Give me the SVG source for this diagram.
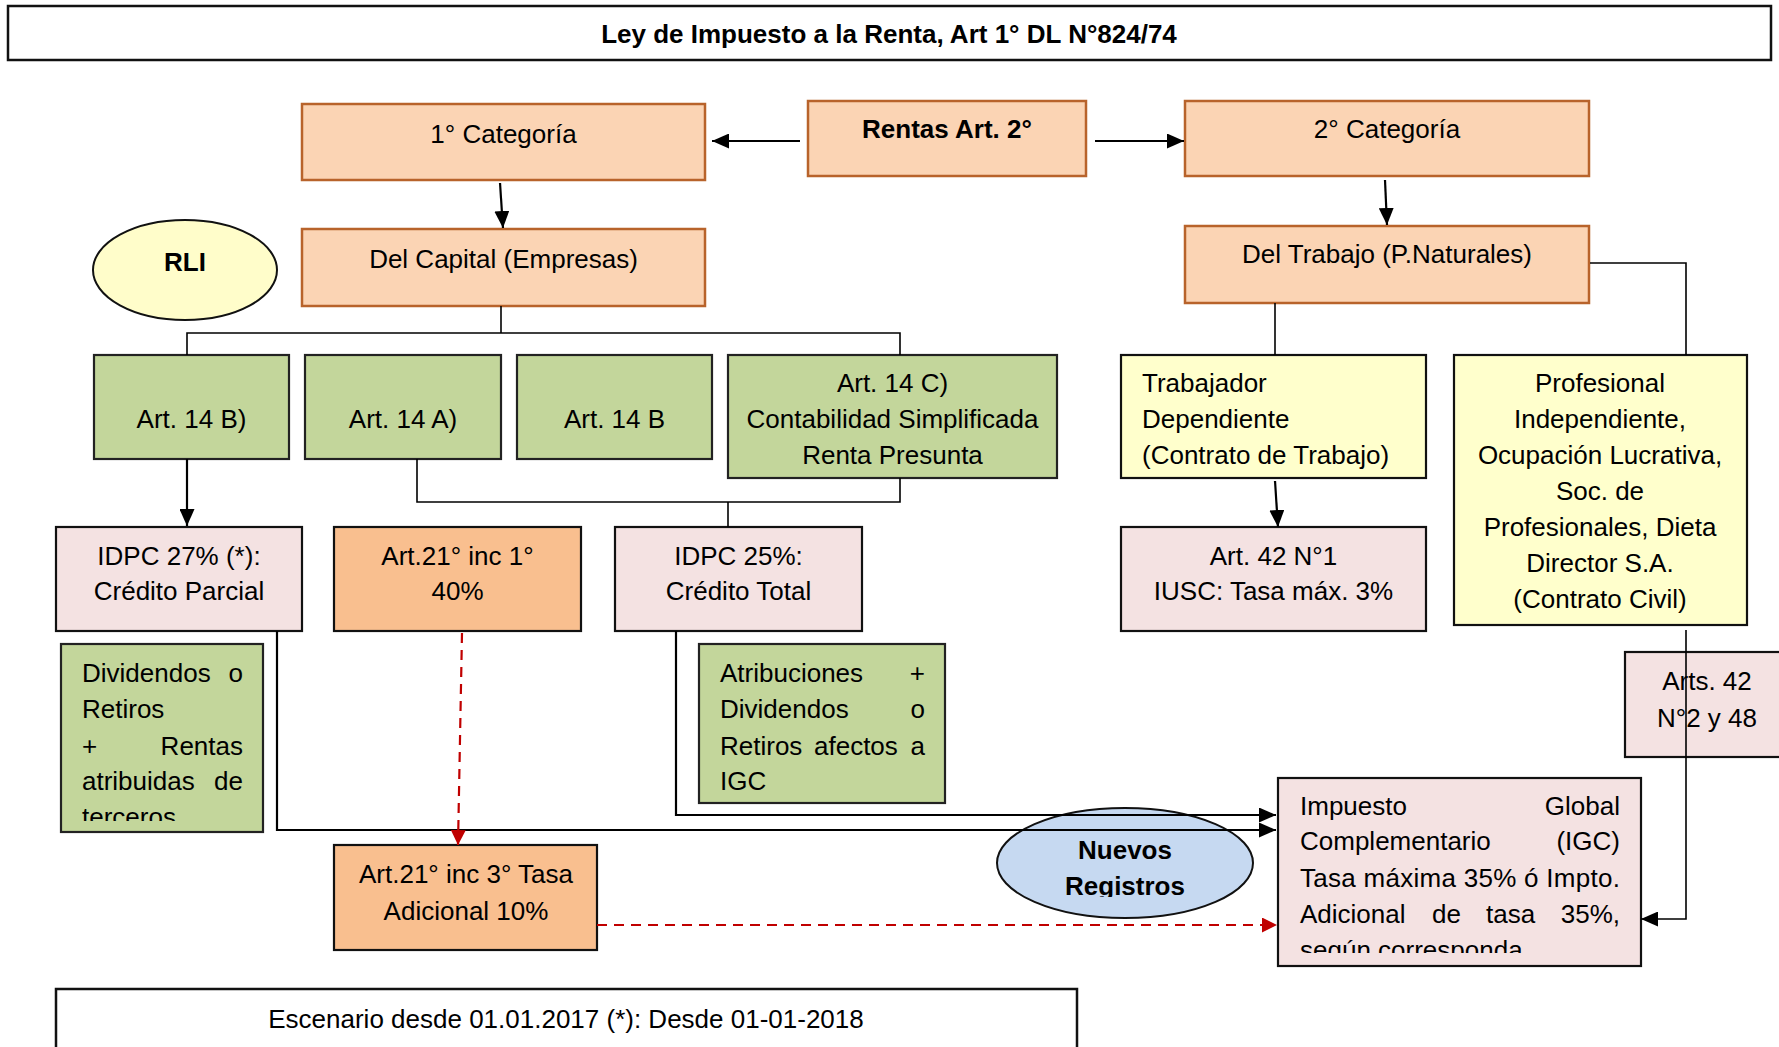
<svg xmlns="http://www.w3.org/2000/svg" width="1779" height="1047" viewBox="0 0 1779 1047">
<style>
.t{font-family:"Liberation Sans",Arial,sans-serif;font-size:26px;fill:#000}
.c{text-anchor:middle}
.e{text-anchor:end}
.b{font-weight:bold}
.peach{fill:#FBD4B4;stroke:#B8632B;stroke-width:2.5}
.green{fill:#C3D69B;stroke:#222;stroke-width:2.2}
.pink{fill:#F4E2E2;stroke:#111;stroke-width:2.2}
.orange{fill:#F9BF8F;stroke:#111;stroke-width:2.2}
.yellow{fill:#FFFFCC;stroke:#111;stroke-width:2.2}
.frame{fill:#fff;stroke:#111;stroke-width:2.5}
.conn{stroke:#000;stroke-width:2.2;fill:none}
.thin{stroke:#000;stroke-width:1.6;fill:none}
.red{stroke:#C00000;stroke-width:2.2;stroke-dasharray:10 7;fill:none}
</style>
<defs>
<marker id="ah" viewBox="0 0 17 15" refX="17" refY="7.5" markerWidth="17" markerHeight="15" markerUnits="userSpaceOnUse" orient="auto"><path d="M0,0 L17,7.5 L0,15 z" fill="#000"/></marker>
<marker id="ahr" viewBox="0 0 15 15" refX="15" refY="7.5" markerWidth="15" markerHeight="15" markerUnits="userSpaceOnUse" orient="auto"><path d="M0,0 L15,7.5 L0,15 z" fill="#C00000"/></marker>
<clipPath id="clipNR"><rect x="990" y="800" width="270" height="97"/></clipPath>
<clipPath id="clipDiv"><rect x="62" y="645" width="200" height="176"/></clipPath>
<clipPath id="clipIGC"><rect x="1279" y="779" width="361" height="174"/></clipPath>
</defs>

<g id="title">
<rect class="frame" x="8" y="6" width="1763" height="54"/>
<text class="t b c" x="889" y="43">Ley de Impuesto a la Renta, Art 1° DL N°824/74</text>
</g>

<g id="cat1">
<rect class="peach" x="302" y="104" width="403" height="76"/>
<text class="t c" x="503.5" y="143">1° Categoría</text>
</g>
<g id="rentas">
<rect class="peach" x="808" y="101" width="278" height="75"/>
<text class="t b c" x="947" y="138">Rentas Art. 2°</text>
</g>
<g id="cat2">
<rect class="peach" x="1185" y="101" width="404" height="75"/>
<text class="t c" x="1387" y="138">2° Categoría</text>
</g>
<g id="rli">
<ellipse cx="185" cy="270" rx="92" ry="50" fill="#FFFDCA" stroke="#111" stroke-width="2"/>
<text class="t b c" x="185" y="271">RLI</text>
</g>
<g id="capital">
<rect class="peach" x="302" y="229" width="403" height="77"/>
<text class="t c" x="503.5" y="268">Del Capital (Empresas)</text>
</g>
<g id="trabajo">
<rect class="peach" x="1185" y="226" width="404" height="77"/>
<text class="t c" x="1387" y="263">Del Trabajo (P.Naturales)</text>
</g>

<g id="art14b1">
<rect class="green" x="94" y="355" width="195" height="104"/>
<text class="t c" x="191.5" y="428">Art. 14 B)</text>
</g>
<g id="art14a">
<rect class="green" x="305" y="355" width="196" height="104"/>
<text class="t c" x="403" y="428">Art. 14 A)</text>
</g>
<g id="art14b2">
<rect class="green" x="517" y="355" width="195" height="104"/>
<text class="t c" x="614.5" y="428">Art. 14 B</text>
</g>
<g id="art14c">
<rect class="green" x="728" y="355" width="329" height="123"/>
<text class="t c" x="892.5" y="392">Art. 14 C)</text>
<text class="t c" x="892.5" y="428">Contabilidad Simplificada</text>
<text class="t c" x="892.5" y="464">Renta Presunta</text>
</g>
<g id="dependiente">
<rect class="yellow" x="1121" y="355" width="305" height="123"/>
<text class="t" x="1142" y="392">Trabajador</text>
<text class="t" x="1142" y="428">Dependiente</text>
<text class="t" x="1142" y="464">(Contrato de Trabajo)</text>
</g>
<g id="profesional">
<rect class="yellow" x="1454" y="355" width="293" height="270"/>
<text class="t c" x="1600" y="392">Profesional</text>
<text class="t c" x="1600" y="428">Independiente,</text>
<text class="t c" x="1600" y="464">Ocupación Lucrativa,</text>
<text class="t c" x="1600" y="500">Soc. de</text>
<text class="t c" x="1600" y="536">Profesionales, Dieta</text>
<text class="t c" x="1600" y="572">Director S.A.</text>
<text class="t c" x="1600" y="608">(Contrato Civil)</text>
</g>

<g id="idpc27">
<rect class="pink" x="56" y="527" width="246" height="104"/>
<text class="t c" x="179" y="565">IDPC 27% (*):</text>
<text class="t c" x="179" y="600">Crédito Parcial</text>
</g>
<g id="art21inc1">
<rect class="orange" x="334" y="527" width="247" height="104"/>
<text class="t c" x="457.5" y="565">Art.21° inc 1°</text>
<text class="t c" x="457.5" y="600">40%</text>
</g>
<g id="idpc25">
<rect class="pink" x="615" y="527" width="247" height="104"/>
<text class="t c" x="738.5" y="565">IDPC 25%:</text>
<text class="t c" x="738.5" y="600">Crédito Total</text>
</g>
<g id="art42n1">
<rect class="pink" x="1121" y="527" width="305" height="104"/>
<text class="t c" x="1273.5" y="565">Art. 42 N°1</text>
<text class="t c" x="1273.5" y="600">IUSC: Tasa máx. 3%</text>
</g>
<g id="arts42">
<rect class="pink" x="1625" y="652" width="170" height="105"/>
<text class="t c" x="1707" y="690">Arts. 42</text>
<text class="t c" x="1707" y="727">N°2 y 48</text>
</g>

<g id="dividendos">
<rect class="green" x="61" y="644" width="202" height="188"/>
<g clip-path="url(#clipDiv)">
<text class="t" x="82" y="682">Dividendos</text><text class="t e" x="243" y="682">o</text>
<text class="t" x="82" y="718">Retiros</text>
<text class="t" x="82" y="755">+</text><text class="t e" x="243" y="755">Rentas</text>
<text class="t" x="82" y="790">atribuidas</text><text class="t e" x="243" y="790">de</text>
<text class="t" x="82" y="826">terceros</text>
</g>
</g>
<g id="atribuciones">
<rect class="green" x="699" y="644" width="246" height="159"/>
<text class="t" x="720" y="682">Atribuciones</text><text class="t e" x="925" y="682">+</text>
<text class="t" x="720" y="718">Dividendos</text><text class="t e" x="925" y="718">o</text>
<text class="t" x="720" y="755">Retiros</text><text class="t" x="814" y="755">afectos</text><text class="t e" x="925" y="755">a</text>
<text class="t" x="720" y="790">IGC</text>
</g>

<g id="art21inc3">
<rect class="orange" x="334" y="845" width="263" height="105"/>
<text class="t c" x="466" y="883">Art.21° inc 3° Tasa</text>
<text class="t c" x="466" y="920">Adicional 10%</text>
</g>
<g id="nuevos">
<ellipse cx="1125" cy="863" rx="128" ry="55" fill="#C6D9F1" stroke="#111" stroke-width="2"/>
<g clip-path="url(#clipNR)">
<text class="t b c" x="1125" y="859">Nuevos</text>
<text class="t b c" x="1125" y="895">Registros</text>
</g>
</g>
<g id="igc">
<rect class="pink" x="1278" y="778" width="363" height="188"/>
<g clip-path="url(#clipIGC)">
<text class="t" x="1300" y="815">Impuesto</text><text class="t e" x="1620" y="815">Global</text>
<text class="t" x="1300" y="850">Complementario</text><text class="t e" x="1620" y="850">(IGC)</text>
<text class="t" x="1300" y="887" textLength="320" lengthAdjust="spacing">Tasa máxima 35% ó Impto.</text>
<text class="t" x="1300" y="923">Adicional</text><text class="t" x="1432" y="923">de</text><text class="t" x="1486" y="923">tasa</text><text class="t e" x="1620" y="923">35%,</text>
<text class="t" x="1300" y="959">según corresponda</text>
</g>
</g>
<g id="escenario">
<rect class="frame" x="56" y="989" width="1021" height="70"/>
<text class="t c" x="566" y="1028">Escenario desde 01.01.2017 (*): Desde 01-01-2018</text>
</g>

<g id="connectors">
<line class="conn" x1="800" y1="141" x2="712" y2="141" marker-end="url(#ah)"/>
<line class="conn" x1="1095" y1="141" x2="1184" y2="141" marker-end="url(#ah)"/>
<line class="conn" x1="500" y1="183" x2="503" y2="228" marker-end="url(#ah)"/>
<line class="conn" x1="1385" y1="180" x2="1387" y2="225" marker-end="url(#ah)"/>
<polyline class="thin" points="501,306 501,333"/>
<polyline class="thin" points="187,355 187,333 900,333 900,355"/>
<polyline class="thin" points="1590,263 1686,263 1686,355"/>
<line class="thin" x1="1275" y1="303" x2="1275" y2="355"/>
<line class="conn" x1="187" y1="459" x2="187" y2="526" marker-end="url(#ah)"/>
<polyline class="thin" points="417,459 417,502 900,502 900,478"/>
<line class="thin" x1="728" y1="502" x2="728" y2="527"/>
<line class="conn" x1="1275" y1="481" x2="1278" y2="527" marker-end="url(#ah)"/>
<polyline class="conn" points="676,631 676,815 1276,815" marker-end="url(#ah)"/>
<polyline class="conn" points="277,631 277,830 1276,830" marker-end="url(#ah)"/>
<polyline class="thin" points="1686,630 1686,919 1641,919" marker-end="url(#ah)"/>
<line class="red" x1="462" y1="633" x2="458" y2="845" marker-end="url(#ahr)"/>
<line class="red" x1="597" y1="925" x2="1277" y2="925" marker-end="url(#ahr)"/>
</g>
</svg>
